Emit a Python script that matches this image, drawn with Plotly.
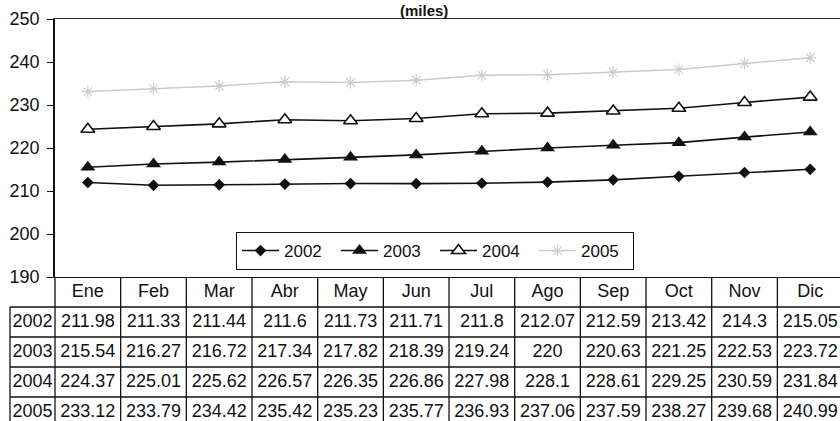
import plotly.graph_objects as go

# ---- data -----------------------------------------------------------------
months = ["Ene", "Feb", "Mar", "Abr", "May", "Jun",
          "Jul", "Ago", "Sep", "Oct", "Nov", "Dic"]
years = ["2002", "2003", "2004", "2005"]

v2002 = [211.98, 211.33, 211.44, 211.6, 211.73, 211.71,
         211.8, 212.07, 212.59, 213.42, 214.3, 215.05]
v2003 = [215.54, 216.27, 216.72, 217.34, 217.82, 218.39,
         219.24, 220, 220.63, 221.25, 222.53, 223.72]
v2004 = [224.37, 225.01, 225.62, 226.57, 226.35, 226.86,
         227.98, 228.1, 228.61, 229.25, 230.59, 231.84]
v2005 = [233.12, 233.79, 234.42, 235.42, 235.23, 235.77,
         236.93, 237.06, 237.59, 238.27, 239.68, 240.99]
series = [v2002, v2003, v2004, v2005]

y_ticks = [190, 200, 210, 220, 230, 240, 250]

# ---- geometry (pixels) ----------------------------------------------------
W, H = 840, 421
PLOT_L = 55        # left edge of plot area and of the first month column
LABEL_L = 10       # left edge of the row-label column of the table
COL = 65.67        # width of one month column
Y_TOP, Y_AXIS = 19, 277   # vertical position of 250 and 190
ROW = 30           # table row height

x_hi = -0.5 + (W - PLOT_L) / COL
x2_lo = -0.5 - PLOT_L / COL
lab_left = x2_lo + LABEL_L / COL
lab_mid = x2_lo + (LABEL_L + PLOT_L) / 2 / COL
y_split = (H - Y_AXIS) / H
y_top = (H - Y_TOP) / H
rows_shown = (H - Y_AXIS) / ROW

FONT = "Liberation Sans, Arial, sans-serif"

styles = [
    dict(line=dict(color="#111", width=1.6),
         marker=dict(symbol="diamond", size=9, color="#111")),
    dict(line=dict(color="#111", width=1.6),
         marker=dict(symbol="triangle-up", size=13, color="#111")),
    dict(line=dict(color="#111", width=1.6),
         marker=dict(symbol="triangle-up", size=12, color="white",
                     line=dict(color="#111", width=1.6))),
    dict(line=dict(color="#cccccc", width=1.5),
         marker=dict(symbol="asterisk-open", size=10, color="#cccccc",
                     line=dict(color="#cccccc", width=1.2))),
]

fig = go.Figure()
idx = list(range(len(months)))

for name, vals, st in zip(years, series, styles):
    fig.add_trace(go.Scatter(x=idx, y=vals, name=name, mode="lines+markers",
                             xaxis="x", yaxis="y", cliponaxis=False, **st))

# ---- data table under the chart -------------------------------------------
gx, gy = [], []
# horizontal rules
gx += [-0.5, x_hi + 1, None]
gy += [0, 0, None]
for r in range(1, len(years) + 2):
    gx += [lab_left, x_hi + 1, None]
    gy += [r, r, None]
# vertical rules
for k in range(len(months) + 1):
    gx += [k - 0.5, k - 0.5, None]
    gy += [0, rows_shown + 1, None]
gx += [lab_left, lab_left, None]
gy += [1, rows_shown + 1, None]

fig.add_trace(go.Scatter(x=gx, y=gy, mode="lines", xaxis="x2", yaxis="y2",
                         line=dict(color="#111", width=1.3),
                         hoverinfo="skip", showlegend=False))

tx, ty, tt = [], [], []
for k, m in enumerate(months):
    tx.append(k); ty.append(0.5); tt.append(m)
for r, (yr, vals) in enumerate(zip(years, series), start=1):
    tx.append(lab_mid); ty.append(r + 0.5); tt.append(yr)
    for k, v in enumerate(vals):
        tx.append(k); ty.append(r + 0.5); tt.append(f"{v:g}")

fig.add_trace(go.Scatter(x=tx, y=ty, text=tt, mode="text", xaxis="x2", yaxis="y2",
                         textposition="middle center",
                         textfont=dict(family=FONT, size=18, color="#111"),
                         hoverinfo="skip", showlegend=False))

fig.update_layout(
    width=W, height=H,
    margin=dict(l=0, r=0, t=0, b=0, pad=0, autoexpand=False),
    paper_bgcolor="white", plot_bgcolor="white",
    font=dict(family=FONT, color="#111"),
    xaxis=dict(domain=[PLOT_L / W, 1], range=[-0.5, x_hi], anchor="y",
               showticklabels=False, ticks="", showgrid=False, zeroline=False,
               showline=True, mirror=True, linecolor="#333", linewidth=1.2,
               automargin=False),
    yaxis=dict(domain=[y_split, y_top], range=[190, 250], anchor="x",
               tickvals=y_ticks, ticks="outside", ticklen=6, tickwidth=1.3,
               tickcolor="#111", ticklabelstandoff=4,
               tickfont=dict(family=FONT, size=18, color="#111"),
               showgrid=False, zeroline=False, automargin=False,
               showline=True, linecolor="#111", linewidth=1.5),
    xaxis2=dict(domain=[0, 1], range=[x2_lo, x_hi], anchor="y2", visible=False,
                automargin=False),
    yaxis2=dict(domain=[0, y_split], range=[rows_shown, 0], anchor="x2",
                visible=False, automargin=False),
    legend=dict(orientation="h", x=236 / W, y=(H - 251) / H,
                xanchor="left", yanchor="middle",
                bgcolor="white", bordercolor="#111", borderwidth=1,
                font=dict(family=FONT, size=17, color="#111"),
                itemwidth=37, entrywidth=47, entrywidthmode="pixels"),
    annotations=[dict(text="<b>(miles)</b>", xref="paper", yref="paper",
                      x=424 / W, y=1, xanchor="center", yanchor="top",
                      showarrow=False,
                      font=dict(family=FONT, size=15, color="#111"))],
    showlegend=True,
)

fig.write_html("out.html")
